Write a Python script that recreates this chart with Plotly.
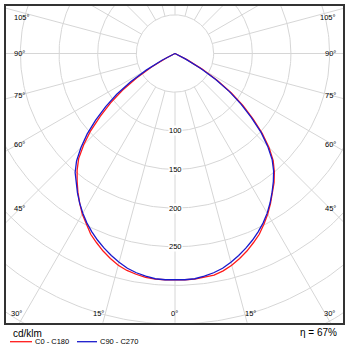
import numpy as np
import plotly.graph_objects as go

# ---- data (cd/klm), gamma in degrees ----
gamma = [0, 2.5, 5, 7.5, 10, 12.5, 15, 17.5, 20, 22.5, 25, 27.5, 30, 32.5, 35, 37.5,
         40, 42.5, 45, 47.5, 50, 52.5, 55, 57.5, 60, 62.5, 65, 67.5, 70, 72.5, 75,
         77.5, 80, 82.5, 85, 87.5, 90]
zeros10 = [0] * 10
c0 = [293, 293, 293, 292, 291, 288, 283.5, 278, 272, 265, 258, 249, 240, 230, 220, 210.5,
      200, 188, 172, 153, 132, 111, 89, 65, 41, 18, 0] + zeros10
c180 = [293, 293, 293, 292, 290, 287.5, 283.5, 278, 272, 265, 258, 249, 240, 229.5, 219, 208,
        197, 184.5, 167, 148, 126, 105, 83, 59, 35, 12, 0] + zeros10
c90 = [293, 293, 292.5, 290.5, 288, 284.5, 279.5, 274, 268, 261.5, 254.5, 247, 238.5, 229, 219, 209,
       198.5, 186, 169.5, 151, 129, 108, 86, 62, 38, 15, 0] + zeros10
c270 = [293, 293, 292.5, 290.5, 288, 284.5, 279.5, 274, 268, 261.5, 254.5, 247, 238.5, 229.5, 220, 210.5,
        201, 188.5, 172, 154, 134, 113, 92, 68, 43, 19, 0] + zeros10

ring_values = [50, 100, 150, 200, 250, 300, 350, 400, 450]
ring_labels = ["100", "150", "200", "250"]
spoke_angles = list(range(0, 360, 15))
angle_labels_left = ["105°", "90°", "75°", "60°", "45°"]
angle_labels_bottom = ["30°", "15°", "0°", "15°", "30°"]
efficiency = "η = 67%"
unit = "cd/klm"
names = ["C0 - C180", "C90 - C270"]
colors = ["#ff1a1a", "#1a1acc"]

W, H = 350, 350
def px(x):
    return x / W
def py(y):
    return 1 - y / H

# pixel layout of the frame
fx0, fx1, fy0, fy1 = 6, 343, 6, 322.7
cx, cy = 175, 53.5
k = 0.773  # px per cd/klm

def curve(left, right):
    g = np.array(gamma, dtype=float)
    L = np.array(left, dtype=float)
    R = np.array(right, dtype=float)
    ang = np.concatenate([-g[::-1], g[1:]])
    val = np.concatenate([L[::-1], R[1:]])
    t = np.radians(ang)
    return val * np.sin(t), -val * np.cos(t)

fig = go.Figure()
grid = dict(color="#d6d6d6", width=1)
th = np.linspace(0, 2 * np.pi, 361)
for r in ring_values:
    fig.add_trace(go.Scatter(x=r * np.cos(th), y=r * np.sin(th), mode="lines",
                             line=grid, hoverinfo="skip", showlegend=False))
for a in spoke_angles:
    t = np.radians(a)
    fig.add_trace(go.Scatter(x=[50 * np.sin(t), 600 * np.sin(t)],
                             y=[-50 * np.cos(t), -600 * np.cos(t)], mode="lines",
                             line=grid, hoverinfo="skip", showlegend=False))

x1, y1 = curve(c180, c0)
x2, y2 = curve(c270, c90)
fig.add_trace(go.Scatter(x=x1, y=y1, mode="lines", name=names[0],
                         line=dict(color=colors[0], width=1.3), showlegend=False))
fig.add_trace(go.Scatter(x=x2, y=y2, mode="lines", name=names[1],
                         line=dict(color=colors[1], width=1.3), showlegend=False))

xr = [-(cx - fx0) / k, (fx1 - cx) / k]
yr = [-(fy1 - cy) / k, (cy - fy0) / k]
ax = dict(showgrid=False, zeroline=False, showticklabels=False, ticks="",
          showline=True, mirror=True, linecolor="#333333", linewidth=1.5, fixedrange=True)
fig.update_xaxes(range=xr, domain=[px(fx0), px(fx1)], **ax)
fig.update_yaxes(range=yr, domain=[py(fy1), py(fy0)], **ax)

fam = "Liberation Sans, Arial, sans-serif"
font = dict(family=fam, size=7.5, color="#000000")
ann = []
side_y = [17, 53.5, 95.5, 144, 208.3]
for lab, yy in zip(angle_labels_left, side_y):
    ann.append(dict(x=px(11.5), y=py(yy), text=lab, xanchor="left", yanchor="middle"))
    ann.append(dict(x=px(338), y=py(yy), text=lab, xanchor="right", yanchor="middle"))
bottom_x = [16.5, 98, 174, 250, 329]
for lab, xx in zip(angle_labels_bottom, bottom_x):
    ann.append(dict(x=px(xx), y=py(313.5), text=lab, xanchor="center", yanchor="middle"))
for a in ann:
    a.update(xref="paper", yref="paper", showarrow=False, font=font)
for lab in ring_labels:
    v = float(lab)
    ann.append(dict(x=0, y=-v, xref="x", yref="y", text=lab, showarrow=False,
                    font=font, bgcolor="white", borderpad=0))
ann.append(dict(x=px(10.5), y=py(333), text=unit, xref="paper", yref="paper",
                xanchor="left", yanchor="middle", showarrow=False,
                font=dict(family=fam, size=10, color="#000000")))
ann.append(dict(x=px(338.5), y=py(332.5), text=efficiency, xref="paper", yref="paper",
                xanchor="right", yanchor="middle", showarrow=False,
                font=dict(family=fam, size=10, color="#000000")))
legend_pos = [(10, 32, 32.5), (77, 97, 97.5)]
shapes = []
for (l0, l1, tx), nm, col in zip(legend_pos, names, colors):
    shapes.append(dict(type="line", xref="paper", yref="paper", x0=px(l0), x1=px(l1),
                       y0=py(341.7), y1=py(341.7), line=dict(color=col, width=1.3)))
    ann.append(dict(x=px(tx), y=py(341.7), text=nm, xref="paper", yref="paper",
                    xanchor="left", yanchor="middle", showarrow=False, font=font))

fig.update_layout(width=W, height=H, margin=dict(l=0, r=0, t=0, b=0),
                  paper_bgcolor="white", plot_bgcolor="white",
                  annotations=ann, shapes=shapes, showlegend=False)
fig.write_html("out.html")
